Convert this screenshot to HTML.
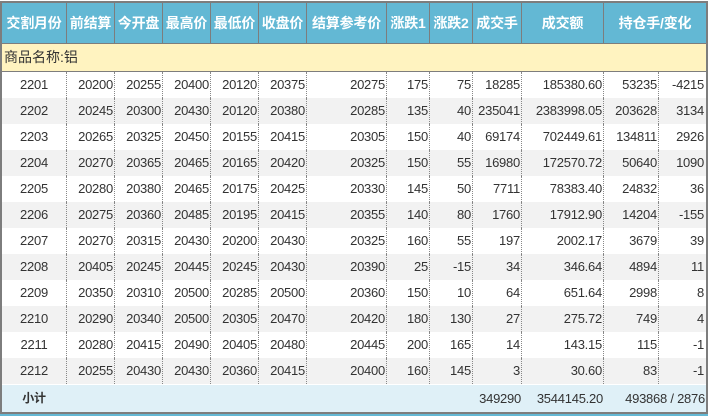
<!DOCTYPE html>
<html><head><meta charset="utf-8">
<style>
*{box-sizing:border-box;margin:0;padding:0}
body{width:708px;height:416px;overflow:hidden;background:#fff;position:relative;font-family:"Liberation Sans","Noto Sans CJK SC",sans-serif;}
.ln{position:absolute;background:#7d7d7d}
.row{position:absolute;left:2px;width:704px;display:grid;}
.c13{grid-template-columns:65px 48px 48px 48px 48px 48px 80px 43px 43px 49px 82px 55px 47px;}
.c12{grid-template-columns:65px 48px 48px 48px 48px 48px 80px 43px 43px 49px 82px 102px;}
.hdr{top:3px;height:41px;background:#63b8d4;border-bottom:1px solid #7d7d7d;}
.hdr div{border-right:1px solid #7d7d7d;color:#fff;font-weight:bold;font-size:14px;text-align:center;line-height:40px;white-space:nowrap;overflow:hidden;letter-spacing:-0.2px}
.hdr div:last-child{border-right:none}
.cat{position:absolute;left:2px;width:704px;top:44px;height:28px;background:#fff3c0;border-bottom:1px solid #7d7d7d;font-size:14px;color:#333;line-height:27px;padding-left:2px}
.d{height:26px;}
.d div{border-right:1px dotted #888;font-size:13px;color:#333;text-align:right;line-height:26px;padding-right:1px;white-space:nowrap;overflow:hidden;letter-spacing:-0.25px}
.d div:first-child{text-align:center;padding-right:0}
.d div:last-child{border-right:none;padding-right:2px}
.g{background:#f2f2f2}
.w{background:#fff}
.sub{top:384px;height:28px;background:#dff0f7;border-top:1px solid #fff;}
.sub div{font-size:13px;color:#333;text-align:right;line-height:27px;white-space:nowrap;letter-spacing:-0.25px;padding-right:1px}
.sub div:first-child{text-align:center;font-weight:bold;font-size:12px}
</style></head><body>
<div class="ln" style="left:0;top:1px;width:708px;height:2px"></div>
<div class="row c12 hdr">
<div>交割月份</div><div>前结算</div><div>今开盘</div><div>最高价</div><div>最低价</div><div>收盘价</div><div>结算参考价</div><div>涨跌1</div><div>涨跌2</div><div>成交手</div><div>成交额</div><div>持仓手/变化</div>
</div>
<div class="cat">商品名称:铝</div>
<div class="row c13 d w" style="top:72px"><div>2201</div><div>20200</div><div>20255</div><div>20400</div><div>20120</div><div>20375</div><div>20275</div><div>175</div><div>75</div><div>18285</div><div>185380.60</div><div>53235</div><div>-4215</div></div>
<div class="row c13 d g" style="top:98px"><div>2202</div><div>20245</div><div>20300</div><div>20430</div><div>20120</div><div>20380</div><div>20285</div><div>135</div><div>40</div><div>235041</div><div>2383998.05</div><div>203628</div><div>3134</div></div>
<div class="row c13 d w" style="top:124px"><div>2203</div><div>20265</div><div>20325</div><div>20450</div><div>20155</div><div>20415</div><div>20305</div><div>150</div><div>40</div><div>69174</div><div>702449.61</div><div>134811</div><div>2926</div></div>
<div class="row c13 d g" style="top:150px"><div>2204</div><div>20270</div><div>20365</div><div>20465</div><div>20165</div><div>20420</div><div>20325</div><div>150</div><div>55</div><div>16980</div><div>172570.72</div><div>50640</div><div>1090</div></div>
<div class="row c13 d w" style="top:176px"><div>2205</div><div>20280</div><div>20380</div><div>20465</div><div>20175</div><div>20425</div><div>20330</div><div>145</div><div>50</div><div>7711</div><div>78383.40</div><div>24832</div><div>36</div></div>
<div class="row c13 d g" style="top:202px"><div>2206</div><div>20275</div><div>20360</div><div>20485</div><div>20195</div><div>20415</div><div>20355</div><div>140</div><div>80</div><div>1760</div><div>17912.90</div><div>14204</div><div>-155</div></div>
<div class="row c13 d w" style="top:228px"><div>2207</div><div>20270</div><div>20315</div><div>20430</div><div>20200</div><div>20430</div><div>20325</div><div>160</div><div>55</div><div>197</div><div>2002.17</div><div>3679</div><div>39</div></div>
<div class="row c13 d g" style="top:254px"><div>2208</div><div>20405</div><div>20245</div><div>20445</div><div>20245</div><div>20430</div><div>20390</div><div>25</div><div>-15</div><div>34</div><div>346.64</div><div>4894</div><div>11</div></div>
<div class="row c13 d w" style="top:280px"><div>2209</div><div>20350</div><div>20310</div><div>20500</div><div>20285</div><div>20500</div><div>20360</div><div>150</div><div>10</div><div>64</div><div>651.64</div><div>2998</div><div>8</div></div>
<div class="row c13 d g" style="top:306px"><div>2210</div><div>20290</div><div>20340</div><div>20500</div><div>20305</div><div>20470</div><div>20420</div><div>180</div><div>130</div><div>27</div><div>275.72</div><div>749</div><div>4</div></div>
<div class="row c13 d w" style="top:332px"><div>2211</div><div>20280</div><div>20415</div><div>20490</div><div>20405</div><div>20480</div><div>20445</div><div>200</div><div>165</div><div>14</div><div>143.15</div><div>115</div><div>-1</div></div>
<div class="row c13 d g" style="top:358px"><div>2212</div><div>20255</div><div>20430</div><div>20430</div><div>20360</div><div>20415</div><div>20400</div><div>160</div><div>145</div><div>3</div><div>30.60</div><div>83</div><div>-1</div></div>
<div class="row c12 sub"><div>小计</div><div></div><div></div><div></div><div></div><div></div><div></div><div></div><div></div><div>349290</div><div>3544145.20</div><div>493868 / 2876</div></div>
<div class="ln" style="left:0;top:412px;width:708px;height:2px"></div>
<div style="position:absolute;left:0;top:414px;width:708px;height:2px;background:#63b8d4"></div>
<div class="ln" style="left:0;top:1px;width:2px;height:413px"></div>
<div class="ln" style="left:706px;top:1px;width:2px;height:413px"></div>
</body></html>
